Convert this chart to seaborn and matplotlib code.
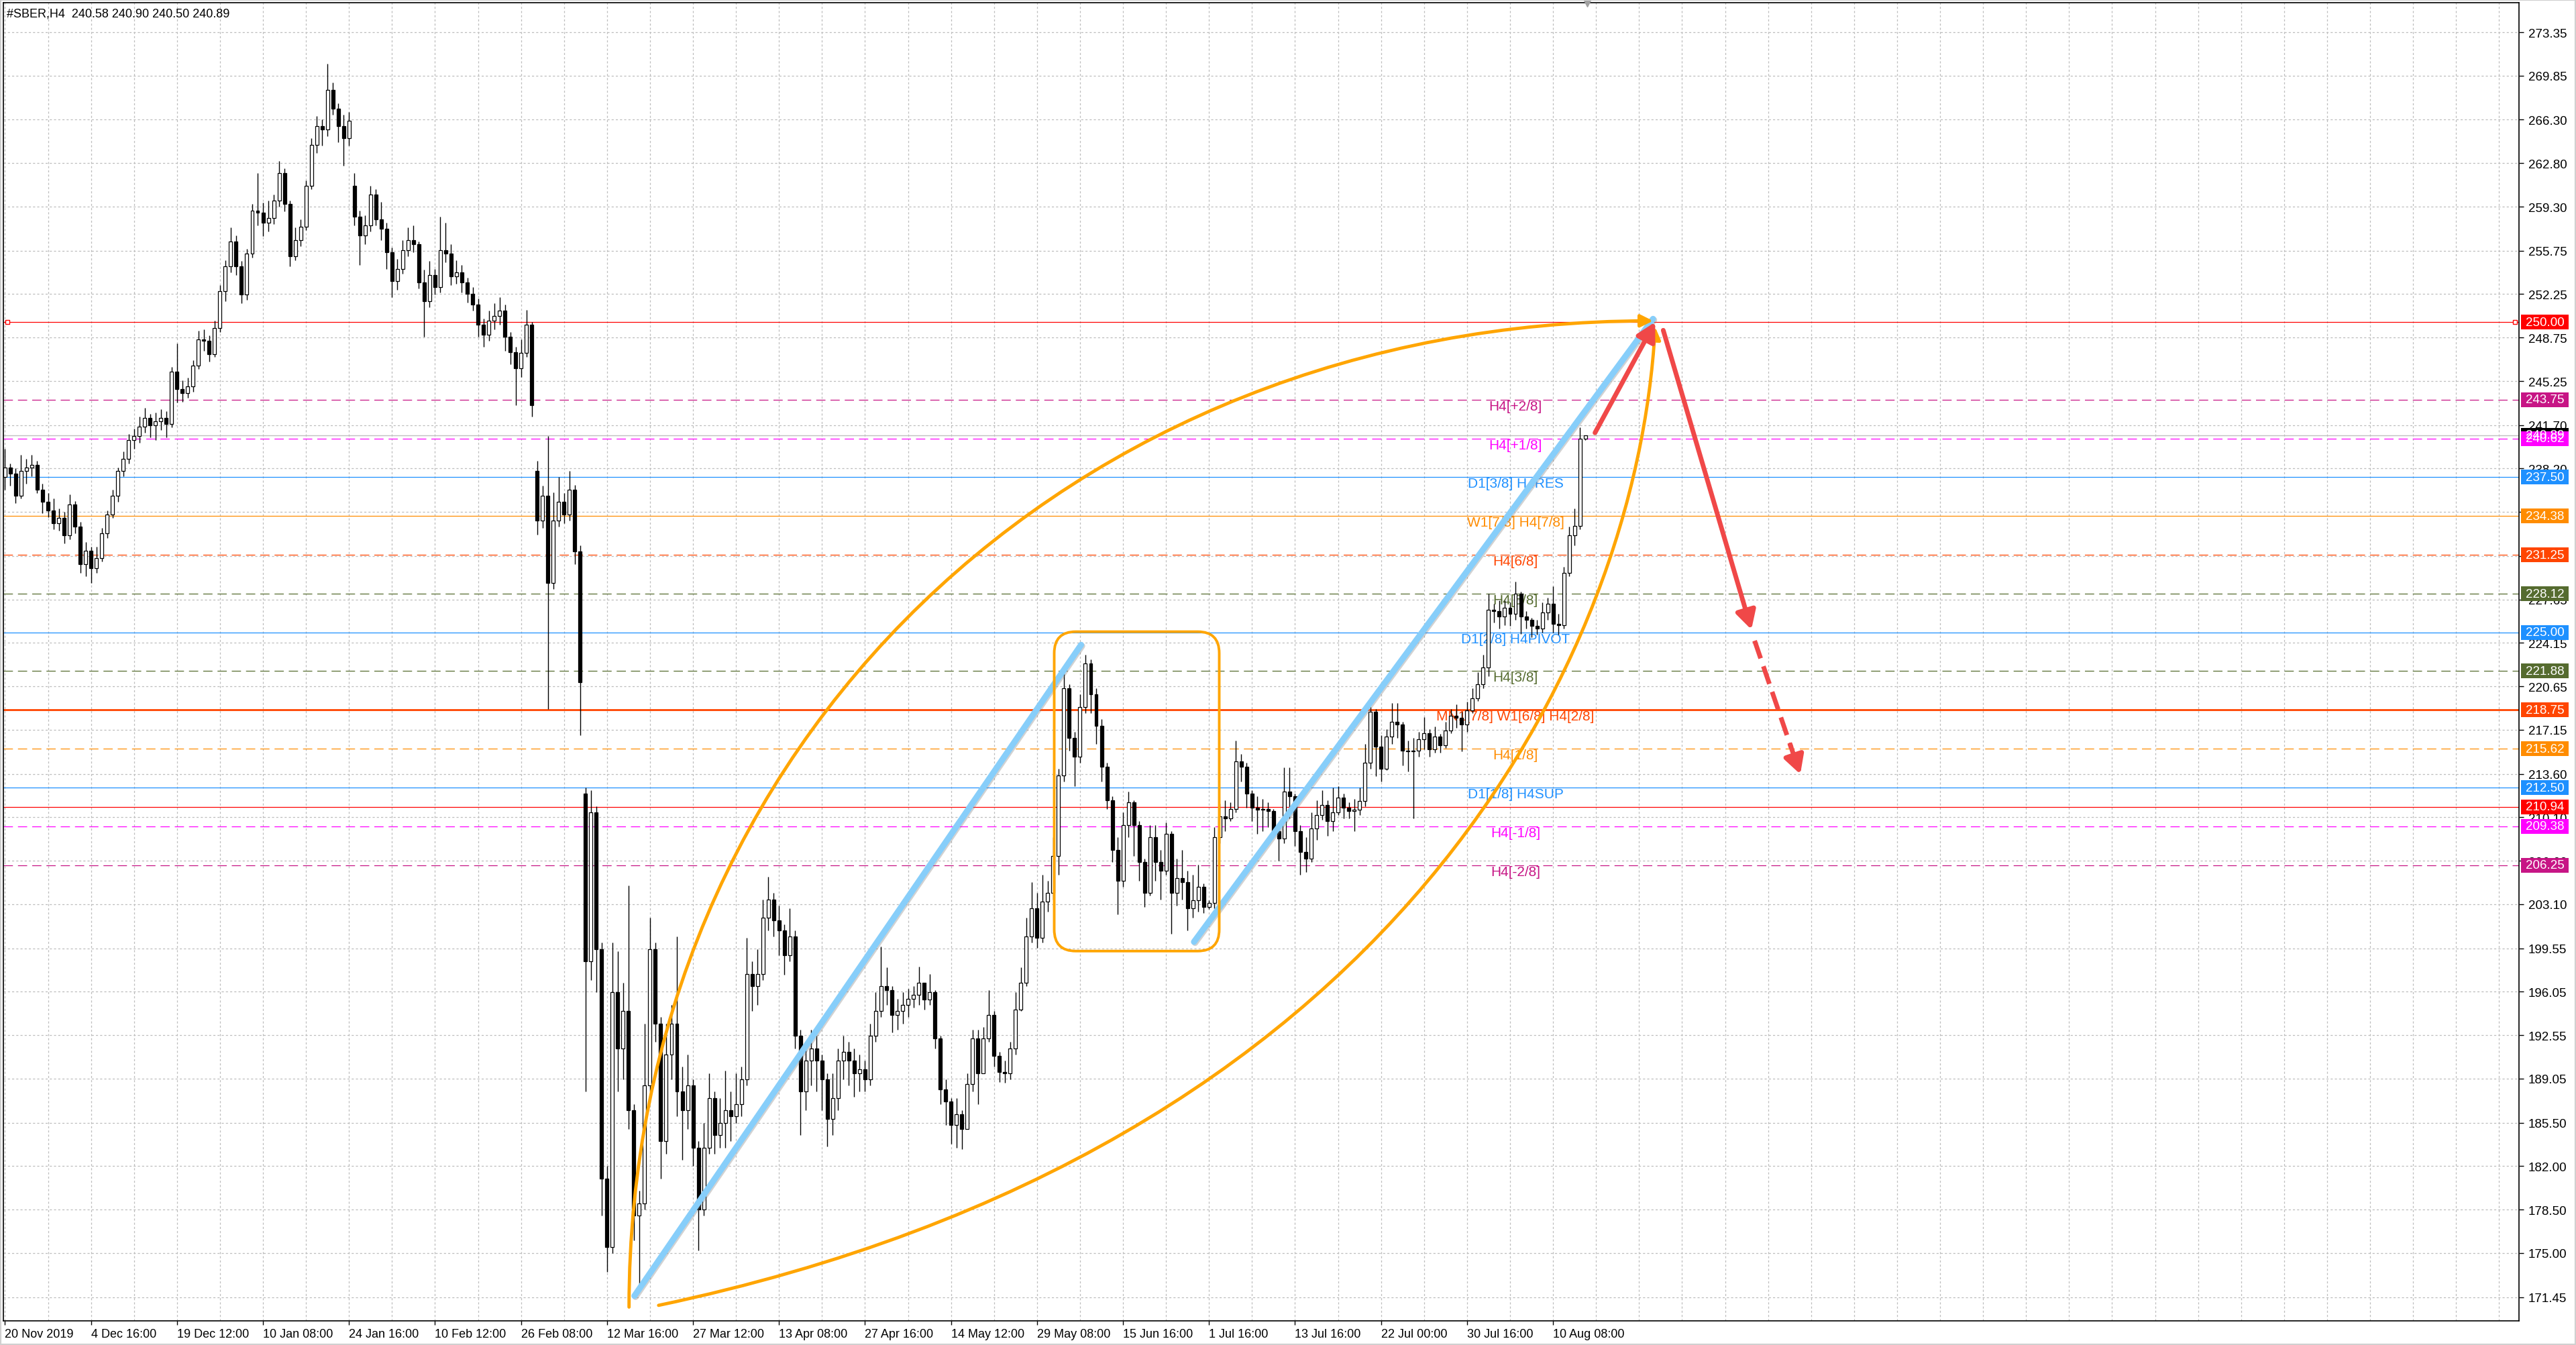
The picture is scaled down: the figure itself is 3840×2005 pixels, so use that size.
import numpy as np
import seaborn as sns
import matplotlib
matplotlib.use("Agg")
import matplotlib.pyplot as plt
import matplotlib.patheffects as pe
from matplotlib.patches import Rectangle, FancyBboxPatch, FancyArrowPatch
from matplotlib.path import Path

# ---- candles (H4 bars, #SBER) ----
opens = [
    237.5, 238.3, 237.8, 236.0, 238.0, 238.3, 238.5, 236.5, 235.5, 234.8,
    233.8, 234.2, 232.8, 235.3, 233.5, 230.5, 231.6, 230.2, 231.0, 233.0,
    234.5, 236.0, 238.0, 239.0, 240.5, 240.8, 241.6, 242.3, 241.7, 242.0,
    242.3, 241.8, 246.0, 244.6, 244.3, 244.8, 246.5, 248.6, 248.5, 247.4,
    249.5, 252.5, 254.5, 256.5, 254.5, 252.2, 255.5, 259.0, 258.8, 258.0,
    258.4, 259.8, 262.0, 259.5, 255.3, 256.6, 257.7, 261.0, 264.3, 265.8,
    265.5, 268.7, 267.2, 265.8, 264.8, 261.0, 258.5, 257.0, 257.8, 260.3,
    258.3, 257.5, 255.6, 253.3, 254.3, 255.8, 256.6, 256.3, 253.2, 251.7,
    253.8, 252.8, 255.8, 255.5, 253.7, 254.0, 253.2, 252.3, 251.4, 249.8,
    249.0, 250.1, 250.5, 250.9, 248.8, 247.6, 246.3, 247.5, 249.8, 238.0,
    234.0, 236.0, 229.0, 234.0, 235.5, 234.5, 236.5, 231.5,
    212.0, 198.5, 210.5, 199.5, 181.0, 175.5, 196.0, 191.5, 194.5, 186.5,
    178.0, 179.0, 188.5, 199.5, 193.5, 184.0, 191.0, 193.5, 188.0, 186.5,
    188.5, 183.5, 178.5, 183.5, 187.5, 184.5, 185.5, 186.5, 186.0, 187.0,
    189.0, 197.5, 196.5, 197.5, 202.0, 203.5, 201.8, 201.0, 199.0, 200.5,
    192.5, 188.0, 190.5, 191.5, 190.5, 189.0, 185.8, 187.5, 190.5, 191.2,
    190.5, 189.5, 189.8, 189.0, 192.5, 194.5, 196.5, 196.2, 194.2, 194.5,
    195.0, 195.5, 195.8, 196.8, 195.4, 196.0, 192.3, 188.2, 187.2, 185.3,
    186.2, 185.0, 188.6, 192.3, 189.5, 192.3, 194.2, 190.9, 189.6, 189.5,
    191.5, 194.6, 196.8, 200.5, 202.8,
    200.4, 203.3, 204.0, 207.0, 213.5, 220.5, 216.5, 215.0, 219.0, 222.5,
    220.0, 217.5, 214.2, 211.5, 207.5, 205.0, 209.5, 211.3, 209.5, 206.5,
    204.0, 208.5, 206.5, 205.8, 208.8, 204.0, 205.2, 204.9, 202.8, 203.4,
    204.5, 202.9, 203.2, 208.5, 210.2, 210.0, 210.8, 214.6, 214.2, 212.0,
    210.9, 210.7, 210.8, 210.6, 209.0, 208.4, 212.2, 211.8, 209.0, 207.3,
    206.8, 209.2, 210.3, 211.1, 209.8, 210.5, 211.7, 210.9, 210.6, 210.7,
    211.4, 214.5, 218.6, 215.8, 214.0, 216.6, 217.8, 217.6, 215.5, 215.4,
    215.5, 216.4, 216.9, 215.6, 216.6, 215.9, 217.1, 218.3, 218.1, 217.6,
    218.7, 219.7, 220.8, 222.2, 226.8, 226.7, 226.3, 227.0, 226.5, 228.1,
    226.3, 226.0, 225.5, 225.3, 226.6, 227.3, 225.7, 225.6, 229.8, 232.8,
    233.6, 240.58,
]
highs = [
    239.8, 238.6, 238.2, 239.3, 239.0, 239.3, 238.8, 237.0, 236.2, 235.8,
    235.0, 234.7, 236.1, 235.6, 233.9, 232.3, 231.9, 231.9, 233.4, 234.8,
    236.5, 238.3, 239.6, 241.0, 241.4, 242.4, 243.1, 242.6, 242.7, 243.0,
    242.8, 246.4, 248.3, 245.3, 245.5, 246.9, 249.3, 249.4, 248.9, 250.1,
    253.0, 255.0, 257.6, 257.0, 254.9, 255.9, 259.5, 262.0, 259.6, 259.8,
    260.3, 263.0, 262.4, 259.8, 257.6, 258.3, 261.4, 264.8, 266.6, 266.3,
    270.8, 269.3, 267.6, 266.7, 266.9, 262.0, 259.0, 258.6, 261.0, 260.7,
    259.7, 258.0, 256.0, 255.1, 256.6, 257.6, 257.8, 256.5, 254.2, 254.9,
    254.3, 258.5, 258.0, 256.3, 255.0, 254.6, 253.6, 252.8, 251.9, 250.3,
    250.9, 251.5, 252.0, 251.4, 249.2, 248.0, 248.6, 251.0, 250.0, 238.8,
    236.8, 240.8, 236.3, 237.5, 236.2, 238.0, 236.9, 232.0,
    212.5, 212.3, 211.0, 200.0, 182.0, 200.0, 199.3, 196.8, 204.6, 187.0,
    180.0, 193.5, 202.0, 200.0, 194.0, 193.5, 195.0, 200.5, 190.0, 191.0,
    189.0, 184.0, 185.5, 189.5, 188.0, 187.5, 189.7, 188.0, 189.5, 190.0,
    200.4, 198.5, 199.5, 203.5, 205.3, 204.0, 203.0, 201.5, 202.8, 201.0,
    193.0, 192.0, 193.0, 192.5, 191.0, 189.5, 189.5, 191.5, 192.5, 192.0,
    191.5, 191.0, 190.5, 193.5, 196.0, 199.7, 198.0, 196.5, 195.5, 196.0,
    196.3, 196.5, 198.1, 196.8, 197.5, 196.2, 192.5, 189.0, 187.5, 187.5,
    186.5, 189.5, 193.0, 193.0, 193.2, 196.2, 194.5, 191.2, 190.5, 192.0,
    196.0, 198.0, 202.0, 204.9, 204.0,
    205.5, 205.0, 208.5, 214.0, 221.7, 220.8, 217.0, 220.0, 223.2, 222.8,
    220.5, 218.0, 214.5, 211.8, 208.5, 210.5, 212.2, 211.5, 209.8, 206.8,
    209.5, 209.5, 207.5, 209.7, 209.0, 206.8, 207.5, 205.8, 205.5, 206.3,
    204.8, 203.4, 209.3, 211.2, 211.5, 211.3, 216.3, 215.2, 214.5, 212.3,
    211.8, 211.6, 211.3, 210.8, 209.5, 214.1, 214.1, 212.0, 209.5, 208.5,
    210.5, 211.5, 212.3, 211.5, 212.5, 212.6, 212.0, 211.3, 211.6, 212.5,
    216.0, 219.0, 218.8, 216.7, 217.2, 219.3, 219.3, 217.8, 216.3, 216.5,
    217.0, 218.2, 217.2, 217.4, 216.8, 217.8, 218.8, 219.2, 218.6, 219.4,
    220.5, 221.8, 223.2, 228.1, 227.3, 227.6, 227.6, 227.4, 229.1, 228.3,
    226.7, 226.2, 226.0, 227.4, 227.8, 228.7, 226.5, 230.3, 233.5, 235.0,
    241.5, 240.90,
]
lows = [
    236.5, 236.8, 235.4, 235.8, 237.0, 237.6, 236.2, 234.6, 234.3, 233.3,
    233.2, 232.2, 232.5, 233.0, 229.8, 229.5, 229.0, 229.8, 230.7, 232.6,
    234.2, 235.5, 237.6, 238.6, 239.8, 240.3, 241.1, 240.7, 240.5, 241.3,
    240.7, 241.5, 243.5, 243.6, 243.9, 244.4, 246.2, 247.7, 246.8, 247.2,
    249.2, 251.7, 254.0, 253.8, 251.5, 251.8, 255.2, 257.8, 256.9, 257.3,
    257.9, 259.3, 258.9, 254.5, 255.0, 256.1, 257.4, 260.7, 263.6, 264.2,
    265.0, 266.7, 264.5, 262.6, 264.2, 257.8, 254.6, 256.3, 257.3, 257.8,
    256.6, 254.3, 252.0, 252.6, 253.9, 255.3, 255.6, 252.7, 248.8, 251.2,
    252.2, 252.4, 254.8, 253.0, 253.1, 252.4, 251.6, 250.9, 248.8, 248.0,
    248.5, 249.4, 249.8, 247.7, 246.6, 243.3, 245.6, 247.2, 242.4, 232.9,
    233.4, 218.8, 228.5, 233.5, 233.8, 234.0, 230.5, 216.7,
    188.0, 197.0, 196.0, 178.0, 173.5, 175.0, 188.0, 189.0, 185.0, 176.0,
    171.9, 178.5, 188.0, 192.0, 181.0, 183.0, 189.0, 186.0, 182.5, 185.0,
    182.0, 175.2, 178.0, 183.0, 183.0, 183.5, 183.5, 184.0, 185.5, 186.0,
    188.5, 194.5, 195.0, 197.0, 201.0, 200.5, 199.0, 197.4, 198.5, 191.5,
    184.5, 186.5, 188.5, 188.0, 186.5, 183.6, 184.5, 186.5, 189.0, 188.5,
    187.6, 188.0, 188.0, 188.5, 192.0, 194.0, 195.0, 192.8, 193.0, 193.5,
    194.0, 194.8, 195.0, 194.6, 195.0, 191.5, 187.0, 185.3, 183.8, 183.5,
    183.4, 185.0, 188.0, 187.0, 189.5, 192.0, 190.0, 188.8, 188.7, 189.0,
    191.0, 194.5, 196.5, 200.0, 199.6,
    200.0, 202.5, 203.5, 205.5, 213.0, 215.5, 212.6, 214.5, 218.5, 218.5,
    216.0, 213.0, 210.8, 206.5, 202.3, 204.5, 208.5, 207.0, 205.0, 202.9,
    203.8, 205.0, 203.5, 205.5, 200.7, 203.0, 203.5, 201.0, 202.0, 202.5,
    202.4, 202.7, 202.8, 208.0, 209.0, 209.8, 210.5, 213.0, 210.9, 209.8,
    208.8, 209.0, 209.3, 208.5, 206.6, 208.0, 210.0, 207.8, 205.5, 205.7,
    206.5, 208.3, 209.9, 208.6, 209.0, 210.3, 210.0, 210.0, 209.0, 210.3,
    211.0, 214.0, 213.4, 213.0, 213.9, 216.0, 216.5, 214.3, 213.8, 210.0,
    215.0, 215.6, 215.0, 215.3, 215.3, 215.7, 216.9, 217.3, 215.4, 217.0,
    218.5, 219.5, 220.5, 221.5, 225.8, 225.3, 225.6, 225.5, 226.0, 224.9,
    225.3, 224.6, 224.8, 225.0, 226.0, 225.0, 224.8, 225.3, 229.5, 232.0,
    233.3, 240.50,
]
closes = [
    238.3, 237.8, 236.0, 238.0, 238.3, 238.5, 236.5, 235.5, 234.8, 233.8,
    234.2, 232.8, 235.3, 233.5, 230.5, 231.6, 230.2, 231.0, 233.0, 234.5,
    236.0, 238.0, 239.0, 240.5, 240.8, 241.6, 242.3, 241.7, 242.0, 242.3,
    241.8, 246.0, 244.6, 244.3, 244.8, 246.5, 248.6, 248.5, 247.4, 249.5,
    252.5, 254.5, 256.5, 254.5, 252.2, 255.5, 259.0, 258.8, 258.0, 258.4,
    259.8, 262.0, 259.5, 255.3, 256.6, 257.7, 261.0, 264.3, 265.8, 265.5,
    268.7, 267.2, 265.8, 264.8, 266.2, 258.5, 257.0, 257.8, 260.3, 258.3,
    257.5, 255.6, 253.3, 254.3, 255.8, 256.6, 256.3, 253.2, 251.7, 253.8,
    252.8, 255.8, 255.5, 253.7, 254.0, 253.2, 252.3, 251.4, 249.8, 249.0,
    250.1, 250.5, 250.9, 248.8, 247.6, 246.3, 247.5, 249.8, 243.3, 234.0,
    236.0, 229.0, 234.0, 235.5, 234.5, 236.5, 231.5, 221.0,
    198.5, 210.5, 199.5, 181.0, 175.5, 196.0, 191.5, 194.5, 186.5, 178.0,
    179.0, 188.5, 199.5, 193.5, 184.0, 191.0, 193.5, 188.0, 186.5, 188.5,
    183.5, 178.5, 183.5, 187.5, 184.5, 185.5, 186.5, 186.0, 187.0, 189.0,
    197.5, 196.5, 197.5, 202.0, 203.5, 201.8, 201.0, 199.0, 200.5, 192.5,
    188.0, 190.5, 191.5, 190.5, 189.0, 185.8, 187.5, 190.5, 191.2, 190.5,
    189.5, 189.8, 189.0, 192.5, 194.5, 196.5, 196.2, 194.2, 194.5, 195.0,
    195.5, 195.8, 196.8, 195.4, 196.0, 192.3, 188.2, 187.2, 185.3, 186.2,
    185.0, 188.6, 192.3, 189.5, 192.3, 194.2, 190.9, 189.6, 189.5, 191.5,
    194.6, 196.8, 200.5, 202.8, 200.4,
    203.3, 204.0, 207.0, 213.5, 220.5, 216.5, 215.0, 219.0, 222.5, 220.0,
    217.5, 214.2, 211.5, 207.5, 205.0, 209.5, 211.3, 209.5, 206.5, 204.0,
    208.5, 206.5, 205.8, 208.8, 204.0, 205.2, 204.9, 202.8, 203.4, 204.5,
    202.9, 203.2, 208.5, 210.2, 210.0, 210.8, 214.6, 214.2, 212.0, 210.9,
    210.7, 210.8, 210.6, 209.0, 208.4, 212.2, 211.8, 209.0, 207.3, 206.8,
    209.2, 210.3, 211.1, 209.8, 210.5, 211.7, 210.9, 210.6, 210.7, 211.4,
    214.5, 218.6, 215.8, 214.0, 216.6, 217.8, 217.6, 215.5, 215.4, 215.5,
    216.4, 216.9, 215.6, 216.6, 215.9, 217.1, 218.3, 218.1, 217.6, 218.7,
    219.7, 220.8, 222.2, 226.8, 226.7, 226.3, 227.0, 226.5, 228.1, 226.3,
    226.0, 225.5, 225.3, 226.6, 227.3, 225.7, 225.6, 229.8, 232.8, 233.6,
    240.58, 240.89,
]

# ---- axis labels ----
xtick_labels = ["20 Nov 2019", "4 Dec 16:00", "19 Dec 12:00", "10 Jan 08:00", "24 Jan 16:00",
                "10 Feb 12:00", "26 Feb 08:00", "12 Mar 16:00", "27 Mar 12:00", "13 Apr 08:00",
                "27 Apr 16:00", "14 May 12:00", "29 May 08:00", "15 Jun 16:00", "1 Jul 16:00",
                "13 Jul 16:00", "22 Jul 00:00", "30 Jul 16:00", "10 Aug 08:00"]
ytick_labels = ["273.35", "269.85", "266.30", "262.80", "259.30", "255.75", "252.25", "248.75",
                "245.25", "241.70", "238.20", "234.70", "231.15", "227.65", "224.15", "220.65",
                "217.15", "213.60", "210.10", "206.60", "203.10", "199.55", "196.05", "192.55",
                "189.05", "185.50", "182.00", "178.50", "175.00", "171.45"]

# ---- Murrey levels ----
level_prices = [243.75, 240.62, 237.50, 234.38, 231.25, 228.12, 225.00, 221.88,
                218.75, 215.62, 212.50, 210.94, 209.38, 206.25]
level_names = ["H4[+2/8]", "H4[+1/8]", "D1[3/8] H4RES", "W1[7/8] H4[7/8]", "H4[6/8]",
               "H4[5/8]", "D1[2/8] H4PIVOT", "H4[3/8]", "MN1[7/8] W1[6/8] H4[2/8]",
               "H4[1/8]", "D1[1/8] H4SUP", "", "H4[-1/8]", "H4[-2/8]"]
level_colors = ["#C71585", "#FF00FF", "#1E90FF", "#FF8C00", "#FF4500", "#556B2F", "#1E90FF",
                "#556B2F", "#FF4500", "#FF8C00", "#1E90FF", "#FF0000", "#FF00FF", "#C71585"]
level_dashed = [True, True, False, False, True, True, False, True,
                False, True, False, False, True, True]
target_price = 250.00
bid_price = 240.89
header = "#SBER,H4  240.58 240.90 240.50 240.89"

# ---- hand-drawn objects (bar index, price) ----
blue_line_1 = [(117.1, 171.55), (200.2, 224.0)]
blue_line_2 = [(221.2, 200.07), (306.6, 250.26)]
upper_arc = [(116.1, 170.65), (116.1, 215.91), (198.1, 250.06), (306.6, 250.1)]
lower_arc = [(121.6, 170.79), (259.2, 183.36), (303.5, 223.07), (307.0, 249.6)]
box_corners = [(195.2, 199.33), (225.9, 225.06)]
red_up = [(295.8, 241.08), (307.0, 250.0)]
red_down = [(308.5, 249.34), (324.9, 225.23)]
red_dashed = [(325.5, 224.33), (334.0, 213.58)]

sns.set_theme(style="white")
plt.rcParams['font.family'] = ['Liberation Sans', 'DejaVu Sans']

W, H = 3840, 2006
fig = plt.figure(figsize=(W / 100, H / 100), dpi=100)
fig.patch.set_facecolor("white")
ax = fig.add_axes([5 / W, 36 / H, 3750 / W, 1965 / H])
ax.set_facecolor("white")

xmin, xmax = -0.3, 467.7
ymin, ymax = 169.54, 275.73
ax.set_xlim(xmin, xmax)
ax.set_ylim(ymin, ymax)

grid_kw = dict(color="#BDBDBD", lw=0.9, ls=(0, (2.5, 2.5)), zorder=0.5)
for gx in np.arange(0, xmax, 8):
    ax.axvline(gx, **grid_kw)
ytick_pos = [float(s) for s in ytick_labels]
for gy in ytick_pos:
    ax.axhline(gy, **grid_kw)

# levels
for p, name, col, dashed in zip(level_prices, level_names, level_colors, level_dashed):
    lw = 2.0 if name.startswith("MN1") else 0.9
    ax.axhline(p, color=col, lw=lw, ls=(0, (11, 6)) if dashed else "-", zorder=2)
    if name:
        ax.text(281, p, name, color=col, fontsize=15, ha="center", va="top", zorder=2.5)
ax.axhline(target_price, color="#FF0000", lw=0.9, zorder=2)
ax.axhline(bid_price, color="#C0C0C0", lw=1.0, zorder=2)
ax.plot([0.4, 467.0], [target_price, target_price], ls="none", marker="s", ms=4,
        mfc="white", mec="#FF0000", mew=1, zorder=3, clip_on=False)

# candles
o = np.array(opens)
hi = np.array(highs)
lo = np.array(lows)
c = np.array(closes)
x = np.arange(len(c))
up = c >= o
ax.vlines(x, lo, hi, color="black", lw=1.0, zorder=3)
ax.bar(x, np.maximum(np.abs(c - o), 0.08), bottom=np.minimum(o, c), width=0.62,
       color=np.where(up, "white", "black"), edgecolor="black", linewidth=0.9, zorder=4)

# drawn objects
orange = "#FFA500"
sky = "#87CEFA"
red = "#F04848"
shadow = [pe.SimpleLineShadow(offset=(1.2, -1.2), shadow_color="#808080", alpha=0.35), pe.Normal()]
for seg in (blue_line_1, blue_line_2):
    xs, ys = zip(*seg)
    ax.plot(xs, ys, color=sky, lw=6.5, solid_capstyle="round", zorder=7, path_effects=shadow)

for arc in (upper_arc, lower_arc):
    path = Path(arc, [Path.MOVETO, Path.CURVE4, Path.CURVE4, Path.CURVE4])
    ax.add_patch(FancyArrowPatch(path=path, arrowstyle="-|>,head_length=0.5,head_width=0.25",
                                 mutation_scale=22, color=orange, lw=3.5, zorder=8))

(bx0, by0), (bx1, by1) = box_corners
ax.add_patch(FancyBboxPatch((bx0, by0), bx1 - bx0, by1 - by0,
                            boxstyle="round,pad=0,rounding_size=4", mutation_aspect=0.433,
                            fill=False, edgecolor=orange, lw=2.8, zorder=8))

for seg in (red_up, red_down):
    ax.add_patch(FancyArrowPatch(seg[0], seg[1], arrowstyle="-|>,head_length=0.55,head_width=0.3",
                                 mutation_scale=30, color=red, lw=5, shrinkA=0, shrinkB=0,
                                 capstyle="round", zorder=9))
(dx0, dy0), (dx1, dy1) = red_dashed
ax.plot([dx0, dx0 + 0.8 * (dx1 - dx0)], [dy0, dy0 + 0.8 * (dy1 - dy0)], color=red, lw=5,
        ls=(0, (4, 1.8)), zorder=9)
ax.add_patch(FancyArrowPatch((dx0 + 0.78 * (dx1 - dx0), dy0 + 0.78 * (dy1 - dy0)), (dx1, dy1),
                             arrowstyle="-|>,head_length=0.55,head_width=0.3", mutation_scale=30,
                             color=red, lw=5, shrinkA=0, shrinkB=0, zorder=9))

# axes styling
for s in ax.spines.values():
    s.set_color("black")
    s.set_linewidth(1.2)
ax.yaxis.tick_right()
ax.set_yticks(ytick_pos, ytick_labels)
ax.tick_params(axis="y", which="major", right=True, left=False, direction="out", length=5,
               width=1, pad=5, labelsize=13.5, colors="black")
ax.set_xticks(np.arange(len(xtick_labels)) * 16, xtick_labels)
ax.tick_params(axis="x", which="major", bottom=True, direction="out", length=4, width=1,
               pad=4, labelsize=13, colors="black")
for lab in ax.get_xticklabels():
    lab.set_ha("left")
ax.grid(False)

# right price boxes
ytr = ax.get_yaxis_transform()
box_h = 11 * (ymax - ymin) / 1965
box_items = [(target_price, "#FF0000"), (level_prices[0], level_colors[0]),
             (bid_price, "#000000"), (level_prices[1], level_colors[1])] + \
    list(zip(level_prices[2:], level_colors[2:]))
for p, col in box_items:
    ax.add_patch(Rectangle((1.0008, p - box_h), 0.0189, 2 * box_h, transform=ytr,
                           facecolor=col, edgecolor="none", clip_on=False, zorder=10))
    ax.text(1.0027, p, f"{p:.2f}", transform=ytr, color="white", fontsize=13.5,
            ha="left", va="center", clip_on=False, zorder=11)

ax.text(0.0013, 0.9964, header, transform=ax.transAxes, fontsize=13, ha="left", va="top",
        color="black", zorder=12)
ax.plot([294.3], [1.0], transform=ax.get_xaxis_transform(), marker="v", ms=9,
        color="#A0A0A0", clip_on=False, zorder=12)

# light window frame of the terminal screenshot
fig.add_artist(Rectangle((0, 0), 1, 1, transform=fig.transFigure, fill=False,
                         edgecolor="#D0D0D0", lw=3))

fig.savefig("out.png", dpi=100, facecolor="white")
